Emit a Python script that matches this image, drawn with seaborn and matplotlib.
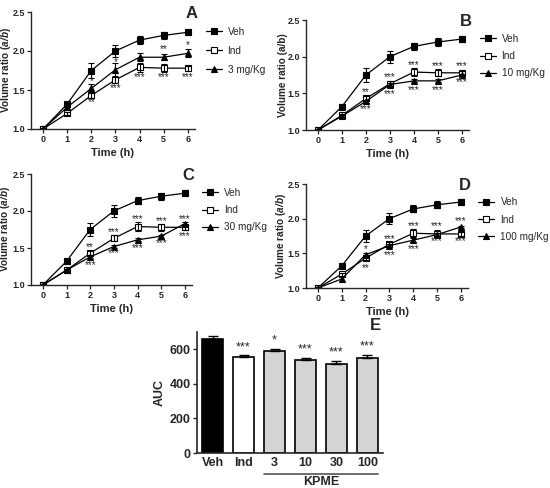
import numpy as np
import pandas as pd
import matplotlib
matplotlib.use("Agg")
import matplotlib.pyplot as plt
import matplotlib.transforms as mtransforms
from matplotlib.lines import Line2D
import seaborn as sns

sns.set_style("ticks")
plt.rcParams['font.family'] = ['Liberation Sans', 'DejaVu Sans']
plt.rcParams['font.sans-serif'] = ['Liberation Sans']
plt.rcParams['mathtext.fontset'] = 'custom'
plt.rcParams['mathtext.bfit'] = 'sans:italic:bold'

# time-course data (volume ratio a/b), mean and SEM
time_h = [0, 1, 2, 3, 4, 5, 6]
veh_mean = [1.0, 1.32, 1.75, 2.0, 2.14, 2.2, 2.24]
veh_sem = [0.01, 0.03, 0.09, 0.08, 0.05, 0.05, 0.04]
ind_mean = [1.0, 1.2, 1.43, 1.63, 1.79, 1.78, 1.78]
ind_sem = [0.01, 0.02, 0.03, 0.04, 0.06, 0.05, 0.03]

dose_labels = ['3 mg/Kg', '10 mg/Kg', '30 mg/Kg', '100 mg/Kg']
dose3_mean = [1.0, 1.28, 1.52, 1.76, 1.92, 1.92, 1.97]
dose3_sem = [0.01, 0.02, 0.06, 0.08, 0.05, 0.04, 0.05]
dose10_mean = [1.0, 1.19, 1.39, 1.62, 1.67, 1.67, 1.75]
dose10_sem = [0.01, 0.01, 0.02, 0.02, 0.02, 0.02, 0.02]
dose30_mean = [1.0, 1.2, 1.38, 1.52, 1.61, 1.66, 1.83]
dose30_sem = [0.01, 0.01, 0.02, 0.02, 0.02, 0.02, 0.02]
dose100_mean = [1.0, 1.13, 1.48, 1.61, 1.69, 1.77, 1.88]
dose100_sem = [0.01, 0.03, 0.02, 0.02, 0.03, 0.02, 0.02]

# significance marks: (time, y position, stars)
stars_A = [(2, 1.62, '*'), (2, 1.35, '**'), (3, 1.86, '*'), (3, 1.52, '***'),
           (4, 1.66, '***'), (5, 2.02, '**'), (5, 1.66, '***'), (6, 2.07, '*'), (6, 1.67, '***')]
stars_B = [(2, 1.52, '**'), (2, 1.28, '***'), (3, 1.72, '***'), (3, 1.49, '***'),
           (4, 1.89, '***'), (4, 1.55, '***'), (5, 1.87, '***'), (5, 1.55, '***'),
           (6, 1.87, '***'), (6, 1.66, '***')]
stars_C = [(2, 1.51, '**'), (2, 1.27, '***'), (3, 1.72, '***'), (3, 1.43, '***'),
           (4, 1.89, '***'), (4, 1.50, '***'), (5, 1.87, '***'), (5, 1.56, '***'),
           (6, 1.89, '***'), (6, 1.66, '***')]
stars_D = [(2, 1.56, '*'), (2, 1.29, '**'), (3, 1.71, '***'), (3, 1.47, '***'),
           (4, 1.89, '***'), (4, 1.56, '***'), (5, 1.89, '***'), (5, 1.67, '***'),
           (6, 1.97, '***'), (6, 1.67, '***')]

# AUC data
auc_groups = ['Veh', 'Ind', '3', '10', '30', '100']
auc_mean = [660, 555, 592, 537, 517, 548]
auc_sem = [18, 10, 12, 14, 17, 20]
auc_stars = ['', '***', '*', '***', '***', '***']
auc_colors = ['black', 'white', '#d4d4d4', '#d4d4d4', '#d4d4d4', '#d4d4d4']

fig = plt.figure(figsize=(5.5, 4.88), dpi=100)

def frac(left, top, right, bottom):
    W, H = 550, 488
    return [left / W, 1 - bottom / H, (right - left) / W, (bottom - top) / H]

panels = [
    ('A', frac(31, 12, 195, 129), dose3_mean, dose3_sem, dose_labels[0], stars_A, True, 0.9),
    ('B', frac(306, 20, 469, 130), dose10_mean, dose10_sem, dose_labels[1], stars_B, False, 0.72),
    ('C', frac(31, 174, 192, 285), dose30_mean, dose30_sem, dose_labels[2], stars_C, True, 0.72),
    ('D', frac(306, 184, 468, 288), dose100_mean, dose100_sem, dose_labels[3], stars_D, True, 0.72),
]

for letter, rect, d_mean, d_sem, d_label, stars, italic, lspace in panels:
    ax = fig.add_axes(rect)
    series = [
        ('Veh', veh_mean, veh_sem, 's', 'black'),
        ('Ind', ind_mean, ind_sem, 's', 'white'),
        (d_label, d_mean, d_sem, '^', 'black'),
    ]
    handles = []
    for name, m, s, mk, fc in series:
        df = pd.DataFrame({'time': time_h, 'ratio': m})
        sns.lineplot(data=df, x='time', y='ratio', ax=ax, color='black', lw=0.9,
                     marker=mk, markersize=4.8,
                     markerfacecolor=fc, markeredgecolor='black', markeredgewidth=0.8)
        ax.errorbar(time_h, m, yerr=s, fmt='none', ecolor='black', elinewidth=0.8,
                    capsize=2.2, capthick=0.8)
        handles.append(Line2D([0], [0], color='black', lw=0.9, marker=mk, markersize=4.5,
                              markerfacecolor=fc, markeredgecolor='black', markeredgewidth=0.8))
    for t, y, txt in stars:
        ax.text(t, y, txt, ha='center', va='center', fontsize=7)
    ax.set_xlim(-0.5, 6.3)
    ax.set_ylim(1.0, 2.5)
    ax.set_xticks(time_h)
    ax.set_yticks([1.0, 1.5, 2.0, 2.5])
    ax.set_yticklabels(['1.0', '1.5', '2.0', '2.5'])
    ax.tick_params(labelsize=6.5, length=3, width=0.9, pad=1.2)
    for lab in ax.get_xticklabels() + ax.get_yticklabels():
        lab.set_fontweight('bold')
    ax.set_xlabel('Time (h)', fontsize=8, fontweight='bold', labelpad=3)
    if italic:
        ylabel = r'Volume ratio ($\mathbfit{a/b}$)'
    else:
        ylabel = 'Volume ratio (a/b)'
    ax.set_ylabel(ylabel, fontsize=7.2, fontweight='bold')
    # right edge of the rotated label just left of the tick labels
    ax.yaxis.set_label_coords(-18.5 / (rect[2] * 550), 0.5)
    sns.despine(ax=ax)
    for sp in ax.spines.values():
        sp.set_linewidth(1.0)
    ax.text(0.98, 0.99, letter, transform=ax.transAxes, ha='center', va='center',
            fontsize=12, fontweight='bold')
    ax.legend(handles, ['Veh', 'Ind', d_label], loc='upper left', bbox_to_anchor=(1.04, 0.91),
              frameon=False, fontsize=7.2, handlelength=1.6, handletextpad=0.6,
              labelspacing=lspace, borderaxespad=0)

# panel E: AUC bars
axE = fig.add_axes(frac(197, 332, 383, 453))
auc_df = pd.DataFrame({'group': auc_groups, 'auc': auc_mean})
sns.barplot(data=auc_df, x='group', y='auc', hue='group', palette=auc_colors,
            legend=False, edgecolor='black', linewidth=1.2, width=0.66,
            errorbar=None, ax=axE)
axE.errorbar(range(len(auc_groups)), auc_mean, yerr=[[0] * len(auc_sem), auc_sem],
             fmt='none', ecolor='black', elinewidth=1.0, capsize=3.5, capthick=1.0)
for i, (m, s, st) in enumerate(zip(auc_mean, auc_sem, auc_stars)):
    if st:
        axE.text(i, m + s + 12, st, ha='center', va='bottom', fontsize=9)
axE.set_xlim(-0.5, 5.5)
axE.set_ylim(0, 700)
axE.set_yticks([0, 200, 400, 600])
axE.set_xlabel('')
axE.set_ylabel('AUC', fontsize=9, fontweight='bold', labelpad=3)
axE.tick_params(axis='y', labelsize=9, length=3, width=1.0, pad=1.5)
axE.tick_params(axis='x', labelsize=9, length=0, pad=3)
for lab in axE.get_xticklabels() + axE.get_yticklabels():
    lab.set_fontweight('bold')
sns.despine(ax=axE)
for sp in axE.spines.values():
    sp.set_linewidth(1.2)
axE.text(5.45, 738, 'E', ha='right', va='center', fontsize=12, fontweight='bold', clip_on=False)
trans = mtransforms.blended_transform_factory(axE.transData, axE.transAxes)
axE.plot([1.65, 5.35], [-0.175, -0.175], color='#555555', lw=1.2, transform=trans, clip_on=False)
axE.text(3.5, -0.24, 'KPME', transform=trans, ha='center', va='center', fontsize=9,
         fontweight='bold')

fig.savefig('out.png', dpi=100)
